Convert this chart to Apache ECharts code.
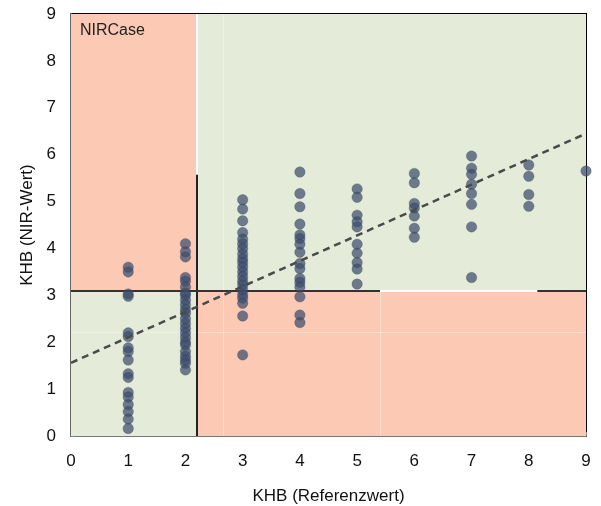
<!DOCTYPE html>
<html><head><meta charset="utf-8">
<script src="https://cdn.jsdelivr.net/npm/echarts@6/dist/echarts.min.js"></script>
<style>html,body{margin:0;padding:0;background:#fff}#c{width:601px;height:506px}</style>
</head><body><div id="c"></div>
<script>
var xTicks = [0,1,2,3,4,5,6,7,8,9];
var yTicks = [0,1,2,3,4,5,6,7,8,9];
var v1 = [3.6,3.5,3.03,2.98,2.2,2.12,1.88,1.8,1.62,1.33,1.25,0.93,0.83,0.67,0.52,0.36,0.16];
var v2 = [4.1,3.93,3.82,3.38,3.3,3.18,3.05,3.0,2.9,2.8,2.7,2.62,2.5,2.4,2.3,2.2,2.1,2.0,1.94,1.8,1.7,1.62,1.55,1.41];
var v3 = [5.04,4.84,4.59,4.34,4.2,4.1,4.0,3.88,3.78,3.7,3.6,3.5,3.4,3.3,3.22,3.12,3.02,2.94,2.83,2.56,1.73];
var v4 = [5.63,5.17,4.89,4.52,4.29,4.21,4.09,3.92,3.68,3.57,3.36,3.28,3.18,2.97,2.58,2.42];
var v5 = [5.27,5.09,4.71,4.57,4.46,4.09,3.9,3.7,3.56,3.24];
var v6 = [5.6,5.4,4.96,4.86,4.69,4.43,4.24];
var v7 = [5.97,5.71,5.58,5.37,5.17,4.94,4.46,3.38];
var v8 = [5.78,5.54,5.15,4.9];
var v9 = [5.65];
var groups = [[1,v1],[2,v2],[3,v3],[4,v4],[5,v5],[6,v6],[7,v7],[8,v8],[9,v9]];
var trend = [[0,1.56],[9,6.45]];
var xCut = 2.2, yCut = 3.1;

var pts = [];
groups.forEach(function(g){ g[1].forEach(function(v){ pts.push([g[0], v]); }); });

var red = '#fbc9b4', green = '#e4ebd8';
var chart = echarts.init(document.getElementById('c'));
chart.setOption({
  animation:false,
  grid:{left:71,right:15,top:14,bottom:70,containLabel:false,outerBoundsMode:'none',show:true,borderColor:'#000',borderWidth:2,backgroundColor:'transparent'},
  xAxis:{type:'value',min:0,max:9,interval:1,
    name:'KHB (Referenzwert)',nameLocation:'middle',nameGap:52,
    nameTextStyle:{fontSize:17,color:'#111',fontFamily:'Liberation Sans'},
    axisLine:{show:true,onZero:false,lineStyle:{color:'#777',width:2}},
    axisTick:{show:true,inside:true,length:4,lineStyle:{color:'#888'}},
    minorTick:{show:true,splitNumber:2,length:4,lineStyle:{color:'#888'}},
    axisLabel:{fontSize:17,color:'#111',margin:17,fontFamily:'Liberation Sans'},
    splitLine:{show:false}},
  yAxis:{type:'value',min:0,max:9,interval:1,
    name:'KHB (NIR-Wert)',nameLocation:'middle',nameGap:34,
    nameTextStyle:{fontSize:17,color:'#111',fontFamily:'Liberation Sans'},
    axisLine:{show:true,onZero:false,lineStyle:{color:'#666',width:2}},
    axisTick:{show:true,inside:true,length:4,lineStyle:{color:'#888'}},
    minorTick:{show:true,splitNumber:2,length:4,lineStyle:{color:'#888'}},
    axisLabel:{fontSize:17,color:'#111',margin:15,fontFamily:'Liberation Sans'},
    splitLine:{show:false}},
  graphic:[{type:'text',left:80,top:23,z:100,style:{text:'NIRCase',fontSize:16,fill:'#222',fontFamily:'Liberation Sans'}}],
  series:[
    {type:'scatter',data:[],z:1,silent:true,
      markArea:{silent:true,data:[
        [{coord:[0,yCut],itemStyle:{color:red}},{coord:[xCut,9]}],
        [{coord:[0,0],itemStyle:{color:green}},{coord:[xCut,yCut]}],
        [{coord:[xCut,yCut],itemStyle:{color:green}},{coord:[9,9]}],
        [{coord:[xCut,0],itemStyle:{color:red}},{coord:[9,yCut]}]
      ]},
      markLine:{silent:true,symbol:'none',label:{show:false},data:[
        [{coord:[2.66,0],lineStyle:{color:'rgba(255,255,255,0.35)',width:1,type:'solid'}},{coord:[2.66,9]}],
        [{coord:[5.4,0],lineStyle:{color:'rgba(255,255,255,0.35)',width:1,type:'solid'}},{coord:[5.4,yCut]}],
        [{coord:[0,2.22],lineStyle:{color:'rgba(255,255,255,0.35)',width:1,type:'solid'}},{coord:[9,2.22]}],
        [{coord:[xCut,5.57],lineStyle:{color:'#fff',width:2,type:'solid'}},{coord:[xCut,9]}],
        [{coord:[xCut,0],lineStyle:{color:'#222',width:2,type:'solid'}},{coord:[xCut,5.57]}],
        [{coord:[5.4,yCut],lineStyle:{color:'#fff',width:2,type:'solid'}},{coord:[8.15,yCut]}],
        [{coord:[0,yCut],lineStyle:{color:'#333',width:2,type:'solid'}},{coord:[5.4,yCut]}],
        [{coord:[8.15,yCut],lineStyle:{color:'#333',width:2,type:'solid'}},{coord:[9,yCut]}]
      ]}},
    {type:'scatter',data:pts,symbolSize:10.5,z:5,
      itemStyle:{color:'rgba(60,76,108,0.9)',borderColor:'rgba(40,55,85,0.6)',borderWidth:0.5}},
    {type:'line',data:trend,showSymbol:false,z:6,
      lineStyle:{color:'#4a4a4a',width:2.5,type:[7,5]}}
  ]
});
</script></body></html>
